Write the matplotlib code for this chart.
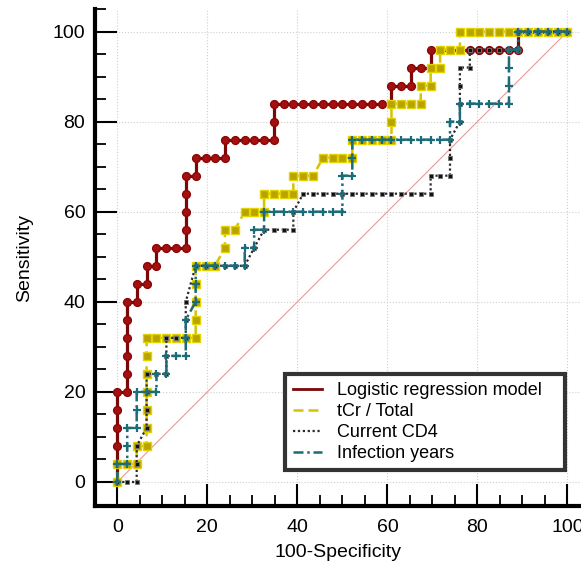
import matplotlib
matplotlib.use("Agg")
import matplotlib.pyplot as plt
from matplotlib.lines import Line2D
from matplotlib.ticker import MultipleLocator

plt.rcParams['font.family'] = ['Liberation Sans', 'DejaVu Sans']

# ROC points: 100-Specificity (x) and Sensitivity (y)
logit_x = [0, 0, 0, 0, 0, 0, 2.2, 2.2, 2.2, 2.2, 2.2, 2.2,
           4.3, 4.3, 6.5, 6.5, 8.7, 8.7, 10.9, 13.0,
           15.2, 15.2, 15.2, 15.2, 15.2, 17.4, 17.4, 19.6, 21.7, 23.9,
           23.9, 26.1, 28.3, 30.4, 32.6, 34.8, 34.8, 34.8, 37.0, 39.1,
           41.3, 43.5, 45.7, 47.8, 50.0, 52.2, 54.3, 56.5, 58.7, 60.9,
           60.9, 63.0, 65.2, 65.2, 67.4, 69.6, 69.6, 71.7, 73.9, 76.1,
           78.3, 80.4, 82.6, 84.8, 87.0, 89.1, 89.1, 91.3, 93.5, 95.7, 97.8, 100]
logit_y = [0, 4, 8, 12, 16, 20, 20, 24, 28, 32, 36, 40,
           40, 44, 44, 48, 48, 52, 52, 52,
           52, 56, 60, 64, 68, 68, 72, 72, 72, 72,
           76, 76, 76, 76, 76, 76, 80, 84, 84, 84,
           84, 84, 84, 84, 84, 84, 84, 84, 84, 84,
           88, 88, 88, 92, 92, 92, 96, 96, 96, 96,
           96, 96, 96, 96, 96, 96, 100, 100, 100, 100, 100, 100]

tcr_x = [0, 0, 2.2, 4.3, 4.3, 6.5, 6.5, 6.5, 6.5, 6.5, 6.5, 6.5,
         8.7, 10.9, 13.0, 15.2, 17.4, 17.4, 17.4, 17.4, 17.4,
         19.6, 21.7, 23.9, 23.9, 26.1, 28.3, 30.4, 32.6, 32.6,
         34.8, 37.0, 39.1, 39.1, 41.3, 43.5, 45.7, 47.8, 50.0, 52.2,
         52.2, 54.3, 56.5, 58.7, 60.9, 60.9, 60.9, 63.0, 65.2, 67.4,
         67.4, 69.6, 69.6, 71.7, 71.7, 73.9, 76.1, 76.1, 78.3, 80.4,
         82.6, 84.8, 87.0, 89.1, 91.3, 93.5, 95.7, 97.8, 100]
tcr_y = [0, 4, 4, 4, 8, 8, 12, 16, 20, 24, 28, 32,
         32, 32, 32, 32, 32, 36, 40, 44, 48,
         48, 48, 52, 56, 56, 60, 60, 60, 64,
         64, 64, 64, 68, 68, 68, 72, 72, 72, 72,
         76, 76, 76, 76, 76, 80, 84, 84, 84, 84,
         88, 88, 92, 92, 96, 96, 96, 100, 100, 100,
         100, 100, 100, 100, 100, 100, 100, 100, 100]

cd4_x = [0, 2.2, 4.3, 4.3, 4.3, 6.5, 6.5, 6.5, 6.5, 8.7,
         10.9, 10.9, 10.9, 13.0, 15.2, 15.2, 15.2, 17.4, 19.6, 21.7,
         23.9, 26.1, 28.3, 30.4, 32.6, 34.8, 37.0, 39.1, 39.1, 41.3,
         43.5, 45.7, 47.8, 50.0, 52.2, 54.3, 56.5, 58.7, 60.9, 63.0,
         65.2, 67.4, 69.6, 69.6, 71.7, 73.9, 73.9, 73.9, 76.1, 76.1,
         76.1, 76.1, 78.3, 78.3, 80.4, 82.6, 84.8, 87.0, 89.1, 89.1,
         91.3, 93.5, 95.7, 97.8, 100]
cd4_y = [0, 0, 0, 4, 8, 12, 16, 20, 24, 24,
         24, 28, 32, 32, 32, 36, 40, 48, 48, 48,
         48, 48, 48, 52, 56, 56, 56, 56, 60, 64,
         64, 64, 64, 64, 64, 64, 64, 64, 64, 64,
         64, 64, 64, 68, 68, 68, 72, 76, 80, 84,
         88, 92, 92, 96, 96, 96, 96, 96, 96, 100,
         100, 100, 100, 100, 100]

years_x = [0, 0, 2.2, 2.2, 2.2, 4.3, 4.3, 4.3, 6.5, 8.7,
           8.7, 10.9, 10.9, 13.0, 15.2, 15.2, 15.2, 17.4, 17.4, 17.4,
           19.6, 21.7, 23.9, 26.1, 28.3, 28.3, 30.4, 30.4, 32.6, 32.6,
           34.8, 37.0, 39.1, 41.3, 43.5, 45.7, 47.8, 50.0, 50.0, 50.0,
           52.2, 52.2, 52.2, 54.3, 56.5, 58.7, 60.9, 63.0, 65.2, 67.4,
           69.6, 71.7, 73.9, 73.9, 76.1, 76.1, 78.3, 80.4, 82.6, 84.8,
           87.0, 87.0, 87.0, 87.0, 89.1, 89.1, 91.3, 93.5, 95.7, 97.8, 100]
years_y = [0, 4, 4, 8, 12, 12, 16, 20, 20, 20,
           24, 24, 28, 28, 28, 32, 36, 40, 44, 48,
           48, 48, 48, 48, 48, 52, 52, 56, 56, 60,
           60, 60, 60, 60, 60, 60, 60, 60, 64, 68,
           68, 72, 76, 76, 76, 76, 76, 76, 76, 76,
           76, 76, 76, 80, 80, 84, 84, 84, 84, 84,
           84, 88, 92, 96, 96, 100, 100, 100, 100, 100, 100]

labels = ["Logistic regression model   ", "tCr / Total", "Current CD4", "Infection years"]
colors = ["#7a0808", "#d6c400", "#2a2a2a", "#1b6b78"]

fig = plt.figure(figsize=(5.81, 5.63), dpi=100)
ax = fig.add_axes([95 / 581, 57 / 563, 486 / 581, 497 / 563])

# chance line
ax.plot([0, 100], [0, 100], color="#e89a9a", lw=0.8, zorder=1)

ax.plot(logit_x, logit_y, color=colors[0], lw=2.3, marker="o", ms=5.6,
        mfc="#a50f0f", mec="#8a0606", zorder=3)
ax.plot(tcr_x, tcr_y, color=colors[1], lw=1.8, ls=(0, (4, 2)), marker="s", ms=5.4,
        mfc="#b8a300", mec="#e2d400", mew=1.0, zorder=4)
ax.plot(cd4_x, cd4_y, color=colors[2], lw=1.6, ls=(0, (1, 1.2)), marker="s", ms=3.2,
        mfc="#111111", mec="#777777", mew=0.6, zorder=5)
ax.plot(years_x, years_y, color=colors[3], lw=1.8, ls=(0, (4, 1.5, 1, 1.5)), marker="+",
        ms=5.5, mew=1.6, mec=colors[3], zorder=6)

ax.set_xlim(-4.96, 103.0)
ax.set_ylim(-5.33, 105.0)

for s in ["top", "right"]:
    ax.spines[s].set_visible(False)
for s in ["left", "bottom"]:
    ax.spines[s].set_linewidth(3)
    ax.spines[s].set_color("black")

ax.xaxis.set_major_locator(MultipleLocator(20))
ax.yaxis.set_major_locator(MultipleLocator(20))
ax.xaxis.set_minor_locator(MultipleLocator(5))
ax.yaxis.set_minor_locator(MultipleLocator(5))
ax.tick_params(which="major", direction="in", length=15.5, width=1.5, labelsize=14, pad=7)
ax.tick_params(which="minor", direction="in", length=8, width=1.3)
ax.tick_params(axis="x", which="major", pad=9)

ax.grid(True, which="major", color="#cfcfcf", ls=":", lw=0.8, zorder=0)
ax.set_axisbelow(True)

ax.set_xlabel("100-Specificity", fontsize=14, labelpad=6)
ax.set_ylabel("Sensitivity", fontsize=14, labelpad=14)

handles = [
    Line2D([], [], color=colors[0], lw=2.0),
    Line2D([], [], color=colors[1], lw=1.8, ls=(0, (4, 2))),
    Line2D([], [], color=colors[2], lw=1.6, ls=(0, (1, 1.2))),
    Line2D([], [], color=colors[3], lw=1.8, ls=(0, (4, 1.5, 1, 1.5))),
]
leg = ax.legend(handles, labels, loc="lower right", bbox_to_anchor=(0.967, 0.072),
                fontsize=13, frameon=True, fancybox=False, framealpha=1,
                borderaxespad=0, handlelength=1.6, handletextpad=0.85,
                labelspacing=0.22, borderpad=0.45)
leg.get_frame().set_edgecolor("#333333")
leg.get_frame().set_linewidth(3)

fig.savefig("out.png", dpi=100)
